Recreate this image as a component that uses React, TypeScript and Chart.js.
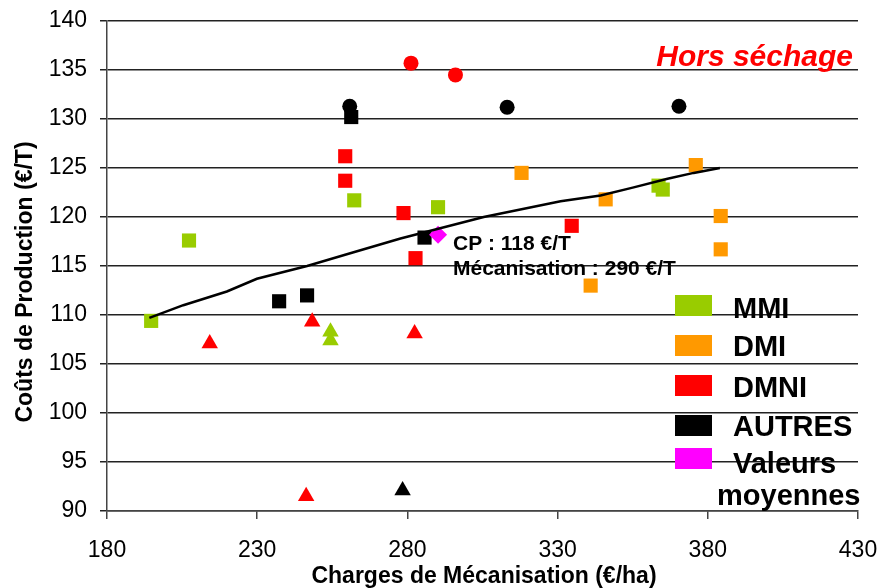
import React, { useEffect, useRef } from "react";
import { Chart, registerables } from "chart.js";

Chart.register(...registerables);

// ---- Data ----
const xTicks = [180, 230, 280, 330, 380, 430];
const yTicks = [90, 95, 100, 105, 110, 115, 120, 125, 130, 135, 140];

const mmiSquares = [[207.3, 117.6], [194.7, 109.4], [262.3, 121.7], [290.2, 121.0], [363.6, 123.2], [365.0, 122.8]];
const mmiTriangles = [[254.4, 108.3], [254.4, 107.4]];
const dmiSquares = [[318.0, 124.5], [376.0, 125.3], [346.0, 121.8], [384.3, 120.1], [384.3, 116.7], [341.0, 113.0]];
const dmniSquares = [[259.3, 126.2], [259.3, 123.7], [278.7, 120.4], [334.7, 119.1], [282.7, 115.8]];
const dmniCircles = [[281.2, 135.7], [296.0, 134.5]];
const dmniTriangles = [[214.2, 107.1], [248.3, 109.3], [282.4, 108.1], [246.3, 91.5]];
const autresSquares = [[261.3, 130.2], [285.7, 117.9], [237.3, 111.4], [246.6, 112.0]];
const autresCircles = [[260.8, 131.3], [313.2, 131.2], [370.4, 131.3]];
const autresTriangles = [[278.4, 92.1]];
const moyenne = [[290.2, 118.2]];
const trendLine = [
  [194.1, 109.7], [205.4, 111.0], [219.9, 112.4], [229.9, 113.7], [246.6, 115.0],
  [262.1, 116.4], [277.7, 117.8], [305.4, 120.0], [331.0, 121.6], [344.3, 122.2],
  [355.0, 123.0], [366.6, 123.9], [375.3, 124.5], [384.0, 125.0],
];

const legendLabels = ["MMI", "DMI", "DMNI", "AUTRES", "Valeurs"];
const legendExtra = "moyennes";
const annotationLines = ["CP : 118 €/T", "Mécanisation : 290 €/T"];
const cornerNote = "Hors séchage";
const xTitle = "Charges de Mécanisation (€/ha)";
const yTitle = "Coûts de Production (€/T)";

const GREEN = "#99CC00";
const ORANGE = "#FF9900";
const RED = "#FF0000";
const BLACK = "#000000";
const MAGENTA = "#FF00FF";
const legendColors = [GREEN, ORANGE, RED, BLACK, MAGENTA];

const FONT = "'Liberation Sans', Arial, sans-serif";

const toPts = (arr: number[][]) => arr.map(([x, y]) => ({ x, y }));

const textPlugin = {
  id: "customText",
  afterDraw(chart: any) {
    const ctx = chart.ctx as CanvasRenderingContext2D;
    ctx.save();
    // Hors séchage
    ctx.fillStyle = RED;
    ctx.font = `italic bold 30px ${FONT}`;
    ctx.textAlign = "right";
    ctx.textBaseline = "alphabetic";
    ctx.fillText(cornerNote, 853, 66);

    // Annotation
    ctx.fillStyle = "#000";
    ctx.font = `bold 21px ${FONT}`;
    ctx.textAlign = "left";
    ctx.fillText(annotationLines[0], 453, 250);
    ctx.fillText(annotationLines[1], 453, 275);

    // Axis titles
    ctx.font = `bold 23px ${FONT}`;
    ctx.textAlign = "center";
    ctx.fillText(xTitle, 484, 583);
    ctx.save();
    ctx.translate(32, 282);
    ctx.rotate(-Math.PI / 2);
    ctx.fillText(yTitle, 0, 0);
    ctx.restore();

    // Legend
    const baselines = [318, 356, 397, 436, 473];
    const tops = [295, 335, 375, 415, 448];
    ctx.font = `bold 29px ${FONT}`;
    ctx.textAlign = "left";
    legendLabels.forEach((lab, i) => {
      ctx.fillStyle = legendColors[i];
      ctx.fillRect(675, tops[i], 37, 21);
      ctx.fillStyle = "#000";
      ctx.fillText(lab, 733, baselines[i]);
    });
    ctx.fillText(legendExtra, 717, 505);
    ctx.restore();
  },
};

export default function App() {
  const canvasRef = useRef<HTMLCanvasElement | null>(null);

  useEffect(() => {
    document.body.style.margin = "0";
    const canvas = canvasRef.current;
    if (!canvas) return;

    const sq = (data: number[][], color: string) => ({
      data: toPts(data),
      pointStyle: "rect",
      pointRadius: 10,
      pointBackgroundColor: color,
      pointBorderWidth: 0,
      pointBorderColor: color,
      showLine: false,
    });
    const circ = (data: number[][], color: string) => ({
      data: toPts(data),
      pointStyle: "circle",
      pointRadius: 7.5,
      pointBackgroundColor: color,
      pointBorderWidth: 0,
      pointBorderColor: color,
      showLine: false,
    });
    const tri = (data: number[][], color: string) => ({
      data: toPts(data),
      pointStyle: "triangle",
      pointRadius: 9.5,
      pointBackgroundColor: color,
      pointBorderWidth: 0,
      pointBorderColor: color,
      showLine: false,
    });

    const chart = new Chart(canvas, {
      type: "scatter",
      data: {
        datasets: [
          {
            data: toPts(trendLine),
            showLine: true,
            borderColor: "#000",
            borderWidth: 2.5,
            pointRadius: 0,
            tension: 0,
            order: -1,
          } as any,
          {
            data: toPts(moyenne),
            pointStyle: "rectRot",
            pointRadius: 9,
            pointBackgroundColor: MAGENTA,
            pointBorderWidth: 0,
            pointBorderColor: MAGENTA,
            showLine: false,
          },
          sq(autresSquares, BLACK),
          circ(autresCircles, BLACK),
          tri(autresTriangles, BLACK),
          sq(dmniSquares, RED),
          circ(dmniCircles, RED),
          tri(dmniTriangles, RED),
          sq(dmiSquares, ORANGE),
          sq(mmiSquares, GREEN),
          tri(mmiTriangles, GREEN),
        ] as any,
      },
      options: {
        animation: false,
        responsive: false,
        layout: { padding: { top: 21, right: 25, left: 0, bottom: 0 } },
        plugins: {
          legend: { display: false },
          tooltip: { enabled: false },
          title: { display: false },
        },
        scales: {
          x: {
            type: "linear",
            min: 180,
            max: 430,
            afterBuildTicks: (scale: any) => {
              scale.ticks = xTicks.map((v) => ({ value: v }));
            },
            afterFit: (scale: any) => {
              scale.height = 77;
              scale.paddingLeft = 0;
              scale.paddingRight = 0;
            },
            ticks: {
              color: "#000",
              font: { family: FONT, size: 23 },
              padding: 18,
              maxRotation: 0,
              autoSkip: false,
            },
            grid: {
              drawOnChartArea: false,
              drawTicks: true,
              tickLength: 8,
              color: "#444",
              lineWidth: 1.5,
            },
            border: { display: true, color: "#444", width: 1.5 },
            title: { display: false },
          },
          y: {
            type: "linear",
            min: 90,
            max: 140,
            afterBuildTicks: (scale: any) => {
              scale.ticks = yTicks.map((v) => ({ value: v }));
            },
            afterFit: (scale: any) => {
              scale.width = 107;
              scale.paddingTop = 0;
              scale.paddingBottom = 0;
            },
            ticks: {
              color: "#000",
              font: { family: FONT, size: 23 },
              padding: 13,
              autoSkip: false,
            },
            grid: {
              drawOnChartArea: true,
              drawTicks: true,
              tickLength: 7,
              color: "#222",
              lineWidth: 1.5,
            },
            border: { display: true, color: "#444", width: 1.5 },
            title: { display: false },
          },
        },
      } as any,
      plugins: [textPlugin],
    });

    return () => chart.destroy();
  }, []);

  return (
    <div style={{ width: 883, height: 588, position: "relative", background: "#fff" }}>
      <canvas ref={canvasRef} width={883} height={588} />
    </div>
  );
}
